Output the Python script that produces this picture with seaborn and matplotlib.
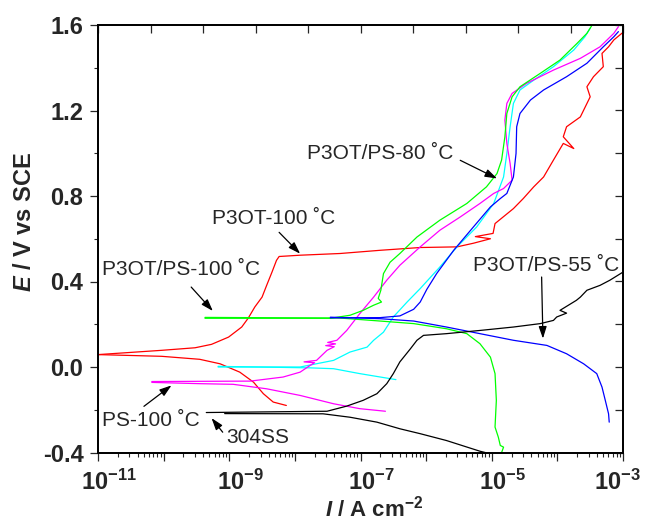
import numpy as np
import matplotlib
matplotlib.use("Agg")
import matplotlib.pyplot as plt
import matplotlib.ticker as mticker
import matplotlib.transforms as mtrans
import seaborn as sns

# ---- data: log10(I / A cm-2) and E / V vs SCE ----
# P3OT-100 C (red)
red_an_logi = [-11.00, -10.03, -9.52, -9.27, -9.01, -8.81, -8.71, -8.61, -8.50, -8.43, -8.35, -8.28, -8.24,
               -7.92, -7.31, -6.70, -6.09, -5.53, -5.28, -5.02, -5.25, -4.98, -4.95, -4.67, -4.52, -4.36,
               -4.21, -4.06, -3.91, -3.75, -3.91, -3.86, -3.65, -3.50, -3.55, -3.45, -3.30, -3.32, -3.22,
               -3.14, -3.01]
red_an_e = [0.058, 0.078, 0.090, 0.106, 0.140, 0.187, 0.229, 0.281, 0.327, 0.382, 0.443, 0.499, 0.517,
            0.523, 0.531, 0.546, 0.559, 0.562, 0.579, 0.600, 0.610, 0.625, 0.671, 0.741, 0.788, 0.843,
            0.889, 0.968, 1.046, 1.022, 1.077, 1.124, 1.170, 1.264, 1.311, 1.358, 1.405, 1.467, 1.498,
            1.530, 1.563]
red_ca_logi = [-11.00, -10.03, -9.45, -9.14, -8.84, -8.63, -8.48, -8.33, -8.13]
red_ca_e = [0.058, 0.050, 0.036, 0.015, -0.024, -0.071, -0.125, -0.164, -0.180]

# P3OT/PS-100 C (green)
green_an_logi = [-9.37, -7.46, -7.16, -6.96, -6.80, -6.68, -6.73, -6.69, -6.65, -6.55, -6.40, -6.14, -5.79,
                 -5.38, -5.08, -4.92, -4.85, -4.80, -4.77, -4.69, -4.57, -4.26, -3.96, -3.70, -3.55, -3.47]
green_an_e = [0.228, 0.228, 0.242, 0.265, 0.289, 0.304, 0.321, 0.359, 0.437, 0.490, 0.531, 0.608, 0.687,
              0.765, 0.843, 0.905, 0.968, 1.077, 1.186, 1.264, 1.311, 1.374, 1.436, 1.514, 1.561, 1.600]
green_ca_logi = [-9.37, -7.31, -6.70, -6.19, -5.69, -5.38, -5.18, -5.02, -4.95, -4.93, -4.95, -4.90, -4.87,
                 -4.82, -4.85]
green_ca_e = [0.232, 0.229, 0.215, 0.203, 0.179, 0.156, 0.109, 0.046, -0.031, -0.156, -0.281, -0.328,
              -0.367, -0.375, -0.400]

# P3OT/PS-55 C (blue)
blue_an_logi = [-7.46, -6.70, -6.40, -6.19, -6.09, -5.99, -5.84, -5.58, -5.28, -5.02, -4.87, -4.77, -4.67,
                -4.63, -4.62, -4.57, -4.41, -4.21, -3.86, -3.55, -3.30, -3.14, -3.07]
blue_an_e = [0.230, 0.231, 0.239, 0.270, 0.304, 0.363, 0.437, 0.546, 0.655, 0.749, 0.788, 0.812, 0.889,
             0.999, 1.124, 1.186, 1.249, 1.296, 1.358, 1.421, 1.498, 1.545, 1.569]
blue_ca_logi = [-7.46, -6.70, -6.19, -5.69, -5.18, -4.67, -4.16, -3.86, -3.60, -3.40, -3.32, -3.27, -3.22, -3.21]
blue_ca_e = [0.233, 0.226, 0.215, 0.187, 0.156, 0.125, 0.101, 0.062, 0.015, -0.031, -0.094, -0.156, -0.219, -0.258]

# P3OT/PS-80 C (cyan)
cyan_an_logi = [-9.17, -7.92, -7.41, -7.16, -6.90, -6.80, -6.65, -6.50, -6.29, -6.09, -5.79, -5.53, -5.23,
                -4.97, -4.82, -4.77, -4.72, -4.67, -4.57, -4.36, -4.06, -3.75, -3.58, -3.50]
cyan_an_e = [0.000, 0.000, 0.031, 0.070, 0.093, 0.125, 0.163, 0.234, 0.304, 0.367, 0.468, 0.562, 0.655,
             0.765, 0.889, 0.999, 1.124, 1.233, 1.296, 1.342, 1.405, 1.483, 1.545, 1.585]
cyan_ca_logi = [-9.17, -7.77, -7.41, -7.01, -6.46]
cyan_ca_e = [0.003, -0.004, -0.008, -0.031, -0.059]

# PS-100 C (magenta)
mag_an_logi = [-10.18, -8.68, -8.18, -7.92, -7.77, -7.70, -7.86, -7.67, -7.51, -7.40, -7.53, -7.38, -7.50,
               -7.36, -7.21, -7.01, -6.80, -6.60, -6.40, -6.09, -5.79, -5.48, -5.18, -4.97, -4.82, -4.69,
               -4.72, -4.77, -4.80, -4.77, -4.69, -4.47, -4.06, -3.65, -3.35, -3.14, -3.07]
mag_an_e = [-0.068, -0.066, -0.047, -0.024, 0.007, 0.020, 0.024, 0.031, 0.078, 0.095, 0.100, 0.108, 0.115,
            0.125, 0.171, 0.250, 0.327, 0.406, 0.476, 0.562, 0.640, 0.702, 0.765, 0.812, 0.835, 0.874,
            0.952, 1.046, 1.155, 1.233, 1.280, 1.327, 1.389, 1.444, 1.498, 1.561, 1.592]
mag_ca_logi = [-10.18, -9.45, -8.94, -8.43, -7.92, -7.41, -7.01, -6.62]
mag_ca_e = [-0.072, -0.078, -0.081, -0.102, -0.133, -0.172, -0.195, -0.207]

# 304SS (black)
black_an_logi = [-9.35, -7.51, -7.21, -6.96, -6.75, -6.60, -6.50, -6.40, -6.24, -6.14, -6.04, -5.69, -5.18,
                 -4.67, -4.26, -4.06, -4.01, -3.86, -3.96, -3.71, -3.65, -3.55, -3.35, -3.20, -3.00]
black_an_e = [-0.213, -0.207, -0.183, -0.156, -0.125, -0.078, -0.031, 0.024, 0.085, 0.125, 0.148, 0.156, 0.171,
              0.187, 0.203, 0.218, 0.234, 0.252, 0.265, 0.312, 0.327, 0.359, 0.382, 0.406, 0.444]
black_ca_logi = [-9.07, -7.57, -7.16, -6.75, -6.40, -6.09, -5.69, -5.18, -5.10]
black_ca_e = [-0.218, -0.219, -0.235, -0.258, -0.289, -0.312, -0.344, -0.394, -0.400]

# annotations: text, text position (logI, E), arrow tail, arrow tip
ann_text = ['P3OT-100 \u02daC', 'P3OT/PS-100 \u02daC', 'PS-100 \u02daC', '304SS',
            'P3OT/PS-80 \u02daC', 'P3OT/PS-55 \u02daC']
ann_pos = [(-9.26, 0.695), (-10.94, 0.455), (-10.94, -0.25), (-9.04, -0.332), (-7.82, 1.0), (-5.28, 0.476)]
ann_tail = [(-8.24, 0.63), (-9.58, 0.374), (-10.30, -0.184), (-9.10, -0.305), (-5.48, 0.967), (-4.24, 0.421)]
ann_tip = [(-7.92, 0.53), (-9.25, 0.262), (-9.88, -0.086), (-9.27, -0.239), (-4.92, 0.882), (-4.22, 0.133)]

sns.set_style('ticks')
plt.rcParams['font.family'] = ['Liberation Sans', 'DejaVu Sans']
plt.rcParams['mathtext.fontset'] = 'custom'
plt.rcParams['mathtext.rm'] = 'Liberation Sans:bold'
plt.rcParams['mathtext.bf'] = 'Liberation Sans:bold'
plt.rcParams['mathtext.it'] = 'Liberation Sans:italic:bold'
plt.rcParams['axes.unicode_minus'] = False

fig = plt.figure(figsize=(6.46, 5.2), dpi=100)
ax = fig.add_axes([98 / 646, 1 - 452.5 / 520, 525 / 646, 427.5 / 520])

curves = [
    (red_an_logi, red_an_e, '#ff0000'), (red_ca_logi, red_ca_e, '#ff0000'),
    (cyan_an_logi, cyan_an_e, '#00ffff'), (cyan_ca_logi, cyan_ca_e, '#00ffff'),
    (mag_an_logi, mag_an_e, '#ff00ff'), (mag_ca_logi, mag_ca_e, '#ff00ff'),
    (green_an_logi, green_an_e, '#00ff00'), (green_ca_logi, green_ca_e, '#00ff00'),
    (blue_an_logi, blue_an_e, '#0000ff'), (blue_ca_logi, blue_ca_e, '#0000ff'),
    (black_an_logi, black_an_e, '#000000'), (black_ca_logi, black_ca_e, '#000000'),
]
for logi, e, c in curves:
    sns.lineplot(x=10 ** np.array(logi), y=e, ax=ax, color=c, lw=0.9, sort=False, estimator=None)

ax.set_xscale('log')
ax.set_xlim(1e-11, 1e-3)
ax.set_ylim(-0.4, 1.6)

def xfmt(v, pos):
    p = int(round(np.log10(v)))
    if p % 2 == 0:
        return ''
    return r'$10^{%d}$' % p

ax.xaxis.set_major_locator(mticker.LogLocator(base=10, numticks=20))
ax.xaxis.set_major_formatter(mticker.FuncFormatter(xfmt))
ax.xaxis.set_minor_locator(mticker.LogLocator(base=10, subs=np.arange(2, 10), numticks=20))
ax.xaxis.set_minor_formatter(mticker.NullFormatter())
ax.yaxis.set_major_locator(mticker.MultipleLocator(0.4))
ax.yaxis.set_minor_locator(mticker.MultipleLocator(0.2))
ax.yaxis.set_major_formatter(mticker.FormatStrFormatter('%.1f'))

ax.tick_params(which='major', direction='out', length=5.5, width=0.9, labelsize=17, pad=5)
ax.tick_params(axis='x', which='major', pad=7)
ax.tick_params(which='minor', direction='out', length=3, width=0.8)

ax.set_xlabel(r'$I$ / A cm$^{-2}$', fontsize=16, fontweight='bold')
ax.set_ylabel(r'$E$ / V vs SCE', fontsize=17, fontweight='bold')
ax.xaxis.set_label_coords(0.526, -0.1)
ax.yaxis.set_label_coords(-0.119, 0.54)

# mirrored top / right ticks (inward)
ax_top = ax.twiny()
ax_top.set_xlim(0, 10)
ax_top.set_xticks(range(11))
ax_top.tick_params(axis='x', direction='in', length=6, width=0.9, labeltop=False)
ax_r = ax.twinx()
ax_r.set_ylim(-0.4, 1.6)
ax_r.set_yticks(np.arange(-0.4, 1.61, 0.2))
ax_r.tick_params(axis='y', direction='in', length=5.5, width=0.9, labelright=False)
for a in (ax, ax_top, ax_r):
    for s in a.spines.values():
        s.set_linewidth(1.1)
        s.set_color('black')

for t, pos, tail, tip in zip(ann_text, ann_pos, ann_tail, ann_tip):
    ax.text(10 ** pos[0], pos[1], t, fontsize=15, ha='left', va='center')
    ax.annotate('', xy=(10 ** tip[0], tip[1]), xytext=(10 ** tail[0], tail[1]),
                arrowprops=dict(arrowstyle='-|>,head_length=0.6,head_width=0.2', color='black',
                                lw=0.9, shrinkA=0, shrinkB=0, mutation_scale=12))

# draw once so all ticks exist, then nudge the decade labels
fig.canvas.draw()
shift = mtrans.ScaledTranslation(11 / 100, 0, fig.dpi_scale_trans)
shift_last = mtrans.ScaledTranslation(-6 / 100, 0, fig.dpi_scale_trans)
for tick in ax.xaxis.get_major_ticks():
    if tick.get_loc() < 5e-4:
        tick.label1.set_transform(tick.label1.get_transform() + shift)
    else:
        tick.label1.set_transform(tick.label1.get_transform() + shift_last)
for lbl in ax.get_yticklabels():
    lbl.set_fontweight('bold')

fig.savefig('out.png', dpi=100)
